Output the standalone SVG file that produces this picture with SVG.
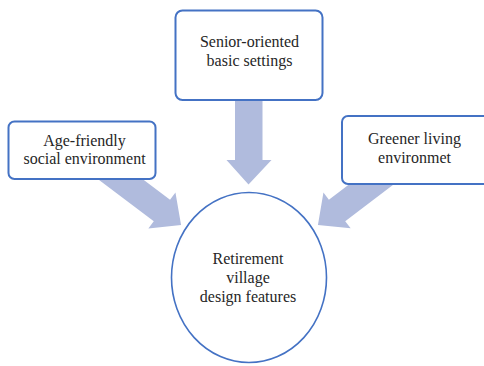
<svg xmlns="http://www.w3.org/2000/svg" width="484" height="366" viewBox="0 0 484 366">
<defs>
<style>
.arrow{fill:#B0BBDD;stroke:none}
.box{fill:#FFFFFF;stroke:#4472C4;stroke-width:2}
.circ{fill:#FFFFFF;stroke:#4472C4;stroke-width:1.6}
.lbl{font-family:"Liberation Serif","Times New Roman",serif;font-size:16px;fill:#262626;text-anchor:middle}
</style>
<polygon id="arr" points="-13.5,0 13.5,0 13.5,71 22.5,71 0,95 -22.5,71 -13.5,71"/>
</defs>
<rect width="484" height="366" fill="#FFFFFF"/>
<g id="connectors">
<use href="#arr" class="arrow" transform="translate(105.2,167.8) rotate(-53)"/>
<use href="#arr" class="arrow" transform="translate(393.6,167.5) rotate(52.8)"/>
<polygon class="arrow" points="235,95 262.5,95 262.5,160 271.5,160 248.5,184.5 226.5,160 235,160"/>
</g>
<g id="node-top">
<rect class="box" x="175.5" y="10.5" width="147" height="89.5" rx="7"/>
<text class="lbl" x="249.5" y="47">Senior-oriented</text>
<text class="lbl" x="249.5" y="65.5">basic settings</text>
</g>
<g id="node-left">
<rect class="box" x="8.5" y="121.5" width="147" height="57.5" rx="6"/>
<text class="lbl" x="84.5" y="145.5">Age-friendly</text>
<text class="lbl" x="84.5" y="163.5">social environment</text>
</g>
<g id="node-right">
<rect class="box" x="342" y="116" width="150" height="68" rx="6"/>
<text class="lbl" x="414.5" y="143.5">Greener living</text>
<text class="lbl" x="414.5" y="162.5">environmet</text>
</g>
<g id="node-center">
<ellipse class="circ" cx="249" cy="277.5" rx="77.5" ry="85"/>
<text class="lbl" x="248" y="264">Retirement</text>
<text class="lbl" x="248" y="282.5">village</text>
<text class="lbl" x="248" y="301.5">design features</text>
</g>
</svg>
